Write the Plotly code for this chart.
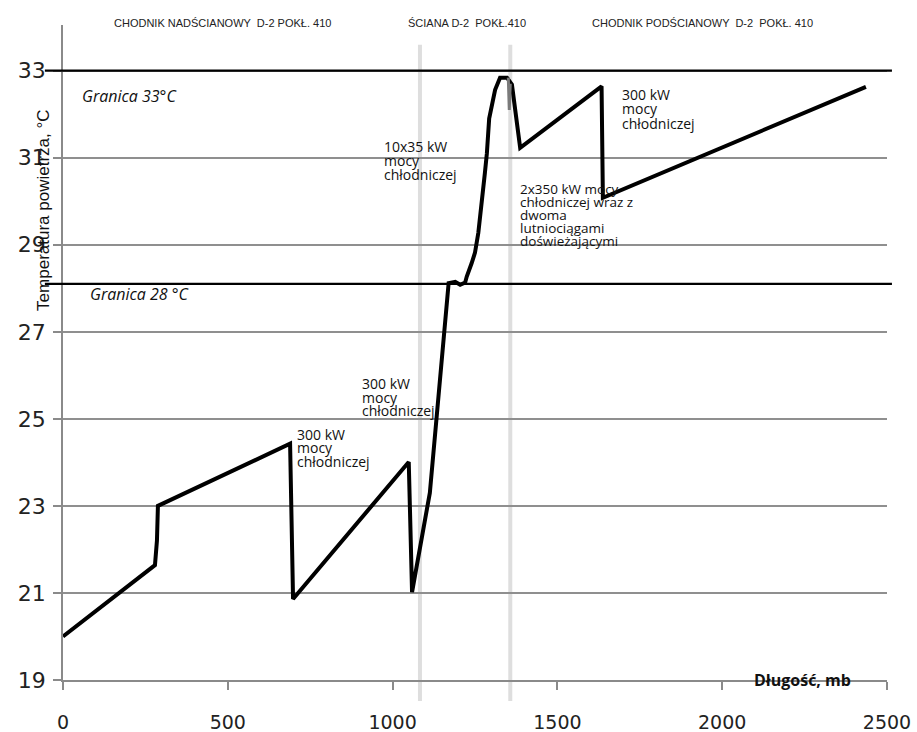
import plotly.graph_objects as go

# Air temperature along the route, D-2 pokł. 410
dlugosc = [0, 279, 285, 288, 689, 698, 1049, 1059, 1113, 1170, 1190, 1205, 1220,
           1225, 1240, 1250, 1260, 1270, 1275, 1280, 1286, 1290, 1293, 1311, 1326,
           1347, 1362, 1387, 1634, 1638, 2436]
temperatura = [20.0, 21.64, 22.2, 23.0, 24.43, 20.86, 24.01, 21.02, 23.3, 28.12, 28.15,
               28.08, 28.13, 28.27, 28.58, 28.82, 29.27, 29.88, 30.2, 30.65, 31.1, 31.6,
               31.9, 32.56, 32.84, 32.84, 32.68, 31.23, 32.64, 30.08, 32.63]

# Short dip at the top of the face section
szczyt_x = [1351, 1354, 1357]
szczyt_y = [32.84, 32.1, 32.7]

# Temperature limits
granice = [33.0, 28.1]
granice_txt = ["Granica 33°C", "Granica 28 °C"]

# Section boundaries along the route (m)
granice_odcinkow = [1083, 1357]
odcinki = ["CHODNIK NADŚCIANOWY  D-2 POKŁ. 410",
           "ŚCIANA D-2  POKŁ.410",
           "CHODNIK PODŚCIANOWY  D-2  POKŁ. 410"]
odcinki_x = [483, 1227, 1940]

y_ticks = [19, 21, 23, 25, 27, 29, 31, 33]
x_ticks = [0, 500, 1000, 1500, 2000, 2500]

# Cooling-power notes: (x, y, lines, line spacing px, font size)
opisy = [
    (704, 24.86, ["300 kW", "mocy", "chłodniczej"], 13.5, 14),
    (901, 26.03, ["300 kW", "mocy", "chłodniczej"], 13.5, 14),
    (968, 31.48, ["10x35 kW", "mocy", "chłodniczej"], 14, 14),
    (1380, 30.49, ["2x350 kW mocy", "chłodniczej wraz z", "dwoma", "lutniociągami",
                   "doświeżającymi"], 13, 13.5),
    (1690, 32.68, ["300 kW", "mocy", "chłodniczej"], 14.5, 14),
]

X_MAX = 2500
Y_MIN, Y_MAX = 19, 34.05

fig = go.Figure()

fig.add_trace(go.Scatter(
    x=dlugosc, y=temperatura, mode="lines",
    line=dict(color="black", width=4),
    showlegend=False, hoverinfo="skip",
))
fig.add_trace(go.Scatter(
    x=szczyt_x, y=szczyt_y, mode="lines",
    line=dict(color="#7a7a7a", width=3),
    showlegend=False, hoverinfo="skip",
))

shapes = []
# light section separators
for xb in granice_odcinkow:
    shapes.append(dict(type="line", xref="paper", yref="paper",
                       x0=xb / X_MAX, x1=xb / X_MAX, y0=-0.032, y1=0.97,
                       line=dict(color="#dedede", width=4), layer="below"))
# limit lines
for g in granice:
    shapes.append(dict(type="line", xref="paper", yref="y",
                       x0=-0.022, x1=1.006, y0=g, y1=g,
                       line=dict(color="black", width=2.2), layer="above"))

annotations = []
for (gx, gy), txt in zip([(52, 32.43), (76, 27.87)], granice_txt):
    annotations.append(dict(x=gx, y=gy, xref="x", yref="y", text=txt,
                            showarrow=False, xanchor="left", yanchor="middle",
                            font=dict(family="Open Sans", size=16, color="#111",
                                      style="italic")))

for ox, oy, lines, step, fs in opisy:
    for i, ln in enumerate(lines):
        annotations.append(dict(x=ox, y=oy, xref="x", yref="y", text=ln,
                                showarrow=False, xanchor="left", yanchor="top",
                                yshift=-step * i + 2,
                                font=dict(family="Open Sans", size=fs, color="#111")))

for tx, txt in zip(odcinki_x, odcinki):
    annotations.append(dict(x=tx, y=1.0, xref="x", yref="paper", text=txt,
                            showarrow=False, xanchor="center", yanchor="bottom",
                            yshift=-6,
                            font=dict(family="Liberation Sans Narrow, Arial Narrow, sans-serif",
                                      size=11, color="#222")))

# axis titles
annotations.append(dict(x=2243, y=Y_MIN, xref="x", yref="y", text="<b>Długość, mb</b>",
                        showarrow=False, xanchor="center", yanchor="middle", yshift=0,
                        font=dict(family="Open Sans", size=16, color="#111")))
annotations.append(dict(x=-0.023, y=29.78, xref="paper", yref="y",
                        text="Temperatura powietrza, °C", textangle=-90,
                        showarrow=False, xanchor="center", yanchor="middle",
                        font=dict(family="Liberation Sans Narrow, Arial Narrow, sans-serif",
                                  size=17, color="#111")))

fig.update_layout(
    width=917, height=732,
    margin=dict(l=63, r=30, t=25, b=52),
    paper_bgcolor="white", plot_bgcolor="white",
    shapes=shapes, annotations=annotations,
    xaxis=dict(range=[0, X_MAX], tickvals=x_ticks, showgrid=False, zeroline=False,
               showline=True, linecolor="#8a8a8a", linewidth=1.5,
               ticks="outside", ticklen=8, tickcolor="#8a8a8a", tickwidth=1.5,
               ticklabelstandoff=16, automargin=False,
               tickfont=dict(family="DejaVu Sans", size=19, color="#222")),
    yaxis=dict(range=[Y_MIN, Y_MAX], tickvals=y_ticks, showgrid=True,
               gridcolor="#8f8f8f", gridwidth=1.5, zeroline=False,
               showline=True, linecolor="#8a8a8a", linewidth=1.5,
               ticks="outside", ticklen=8, tickcolor="#8a8a8a", tickwidth=1.5,
               ticklabelstandoff=3, automargin=False,
               tickfont=dict(family="DejaVu Sans", size=22, color="#222")),
)

fig.write_html("out.html")
